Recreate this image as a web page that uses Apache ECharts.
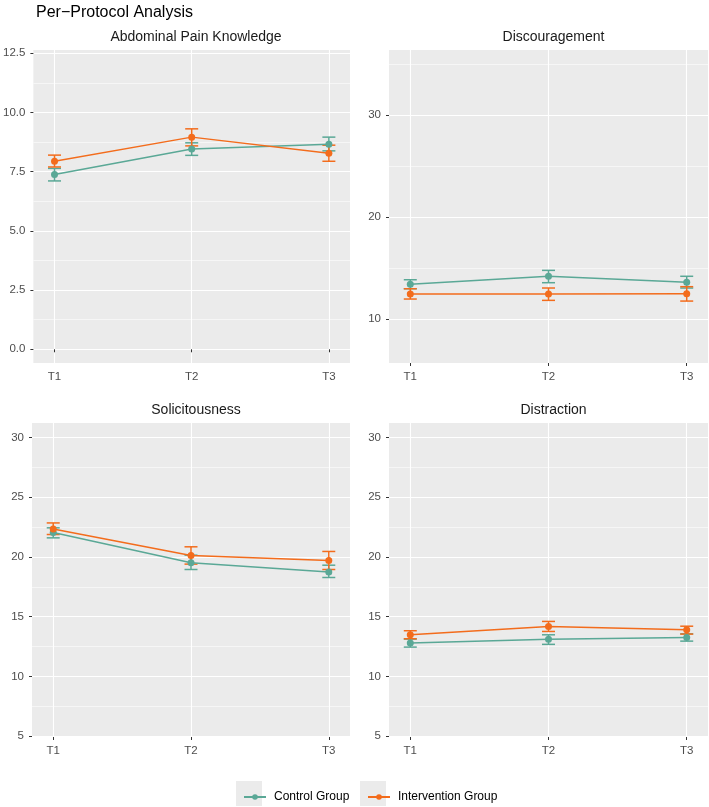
<!DOCTYPE html>
<html>
<head>
<meta charset="utf-8">
<script src="https://cdn.jsdelivr.net/npm/echarts@6/dist/echarts.min.js"></script>
<style>
html,body{margin:0;padding:0;background:#fff;}
#chart{width:709px;height:807px;}
</style>
</head>
<body>
<div id="chart"></div>
<script>
// ---------- data ----------
const categories = ['T1', 'T2', 'T3'];
const groups = ['Control Group', 'Intervention Group'];
const panelTitles = ['Abdominal Pain Knowledge', 'Discouragement', 'Solicitousness', 'Distraction'];

// Abdominal Pain Knowledge
const knowControlMean = [7.38, 8.46, 8.66];
const knowControlLow  = [7.11, 8.19, 8.38];
const knowControlHigh = [7.64, 8.72, 8.96];
const knowIntervMean  = [7.94, 8.96, 8.28];
const knowIntervLow   = [7.70, 8.59, 7.94];
const knowIntervHigh  = [8.20, 9.31, 8.62];

// Discouragement
const discControlMean = [13.40, 14.19, 13.60];
const discControlLow  = [12.97, 13.56, 13.04];
const discControlHigh = [13.85, 14.77, 14.19];
const discIntervMean  = [12.45, 12.45, 12.48];
const discIntervLow   = [11.96, 11.83, 11.76];
const discIntervHigh  = [12.97, 13.04, 13.17];

// Solicitousness
const solControlMean = [22.05, 19.51, 18.75];
const solControlLow  = [21.60, 18.95, 18.28];
const solControlHigh = [22.44, 20.15, 19.31];
const solIntervMean  = [22.35, 20.13, 19.71];
const solIntervLow   = [21.88, 19.40, 18.95];
const solIntervHigh  = [22.85, 20.85, 20.46];

// Distraction
const distControlMean = [12.79, 13.10, 13.26];
const distControlLow  = [12.45, 12.68, 12.95];
const distControlHigh = [13.12, 13.48, 13.56];
const distIntervMean  = [13.48, 14.18, 13.90];
const distIntervLow   = [13.15, 13.76, 13.54];
const distIntervHigh  = [13.82, 14.60, 14.20];

// tick labels
const knowTicks = [0, 2.5, 5, 7.5, 10, 12.5];
const knowMinor = [1.25, 3.75, 6.25, 8.75, 11.25];
const discTicks = [10, 20, 30];
const discMinor = [15, 25, 35];
const lowTicks  = [5, 10, 15, 20, 25, 30];
const lowMinor  = [7.5, 12.5, 17.5, 22.5, 27.5];

// ---------- styling / layout ----------
const COLORS = ['#5AA896', '#F36C1C'];
const FONT = 'Liberation Sans, Arial, Helvetica, sans-serif';
const panels = [
  { grid: {left: 32, top: 50, width: 318, height: 313}, yMin: -0.58, yMax: 12.64, ticks: knowTicks, minor: knowMinor,
    ctrl: [knowControlMean, knowControlLow, knowControlHigh], intv: [knowIntervMean, knowIntervLow, knowIntervHigh], fmt: v => v.toFixed(1) },
  { grid: {left: 389, top: 50, width: 319, height: 313}, yMin: 5.69, yMax: 36.37, ticks: discTicks, minor: discMinor,
    ctrl: [discControlMean, discControlLow, discControlHigh], intv: [discIntervMean, discIntervLow, discIntervHigh], fmt: v => String(v) },
  { grid: {left: 32, top: 423, width: 318, height: 314}, yMin: 4.92, yMax: 31.22, ticks: lowTicks, minor: lowMinor,
    ctrl: [solControlMean, solControlLow, solControlHigh], intv: [solIntervMean, solIntervLow, solIntervHigh], fmt: v => String(v) },
  { grid: {left: 389, top: 423, width: 319, height: 314}, yMin: 4.92, yMax: 31.22, ticks: lowTicks, minor: lowMinor,
    ctrl: [distControlMean, distControlLow, distControlHigh], intv: [distIntervMean, distIntervLow, distIntervHigh], fmt: v => String(v) }
];
const xPositions = categories.map((c, i) => i + 1);

const grids = [], xAxes = [], yAxes = [], series = [], titles = [];
titles.push({ text: 'Per\u2212Protocol Analysis', left: 31, top: 0,
  textStyle: { fontFamily: FONT, fontSize: 16, fontWeight: 'normal', color: '#000' } });

panels.forEach((p, i) => {
  grids.push(Object.assign({ show: true, backgroundColor: '#EBEBEB', borderWidth: 0 }, p.grid));
  titles.push({ text: panelTitles[i], left: p.grid.left + p.grid.width / 2, top: p.grid.top - 25, textAlign: 'center',
    textStyle: { fontFamily: FONT, fontSize: 14, fontWeight: 'normal', color: '#1a1a1a' } });
  xAxes.push({
    gridIndex: i, type: 'value', min: 0.846, max: 3.154,
    axisLine: { show: false },
    axisTick: { show: true, length: 3, lineStyle: { color: '#333', width: 1 }, customValues: xPositions },
    axisLabel: { customValues: xPositions, margin: 8, fontFamily: FONT, fontSize: 11.5, color: '#4D4D4D',
      formatter: v => categories[Math.round(v) - 1] || '' },
    splitLine: { show: true, lineStyle: { color: '#fff', width: 1.1 } }
  });
  yAxes.push({
    gridIndex: i, type: 'value', min: p.yMin, max: p.yMax,
    axisLine: { show: false },
    axisTick: { show: true, length: 3, lineStyle: { color: '#333', width: 1 }, customValues: p.ticks },
    axisLabel: { customValues: p.ticks, margin: 8, fontFamily: FONT, fontSize: 11.5, color: '#4D4D4D', formatter: p.fmt },
    splitLine: { show: true, lineStyle: { color: '#fff', width: 1.1 } }
  });
  yAxes.push({
    gridIndex: i, type: 'value', min: p.yMin, max: p.yMax, position: 'left',
    axisLine: { show: false },
    axisTick: { show: false, customValues: p.minor },
    axisLabel: { show: false, customValues: p.minor },
    splitLine: { show: true, lineStyle: { color: '#fff', width: 0.55 } }
  });

  [p.ctrl, p.intv].forEach((g, gi) => {
    const color = COLORS[gi];
    series.push({
      name: groups[gi], type: 'line', xAxisIndex: i, yAxisIndex: 2 * i,
      data: xPositions.map((x, k) => [x, g[0][k]]),
      symbol: 'circle', symbolSize: 7, showSymbol: true,
      lineStyle: { color, width: 1.5 }, itemStyle: { color }, z: 4, animation: false
    });
  });
  [p.ctrl, p.intv].forEach((g, gi) => {
    const color = COLORS[gi];
    series.push({
      name: groups[gi], type: 'custom', xAxisIndex: i, yAxisIndex: 2 * i,
      data: xPositions.map((x, k) => [x, g[1][k], g[2][k]]),
      encode: { x: 0, y: [1, 2] }, z: 3, animation: false,
      renderItem: (params, api) => {
        const lo = api.coord([api.value(0), api.value(1)]);
        const hi = api.coord([api.value(0), api.value(2)]);
        const hw = 6.5;
        const st = { stroke: color, lineWidth: 1.5, fill: null };
        return { type: 'group', children: [
          { type: 'line', shape: { x1: lo[0], y1: lo[1], x2: hi[0], y2: hi[1] }, style: st },
          { type: 'line', shape: { x1: lo[0] - hw, y1: lo[1], x2: lo[0] + hw, y2: lo[1] }, style: st },
          { type: 'line', shape: { x1: hi[0] - hw, y1: hi[1], x2: hi[0] + hw, y2: hi[1] }, style: st }
        ]};
      }
    });
  });
});

const legendCommon = { top: 786, itemWidth: 22, itemHeight: 7, orient: 'horizontal',
  textStyle: { fontFamily: FONT, fontSize: 12, color: '#000', padding: [0, 0, 0, 3] }, selectedMode: false };

const chart = echarts.init(document.getElementById('chart'), null, { renderer: 'canvas' });
chart.setOption({
  animation: false,
  backgroundColor: '#fff',
  title: titles,
  grid: grids,
  xAxis: xAxes,
  yAxis: yAxes,
  legend: [
    Object.assign({ left: 238, data: [groups[0]] }, legendCommon),
    Object.assign({ left: 362, data: [groups[1]] }, legendCommon)
  ],
  graphic: [
    { type: 'rect', left: 236, top: 781, shape: { width: 26, height: 25 }, style: { fill: '#EBEBEB' }, z: 0 },
    { type: 'rect', left: 360, top: 781, shape: { width: 26, height: 25 }, style: { fill: '#EBEBEB' }, z: 0 }
  ],
  series
});
</script>
</body>
</html>
